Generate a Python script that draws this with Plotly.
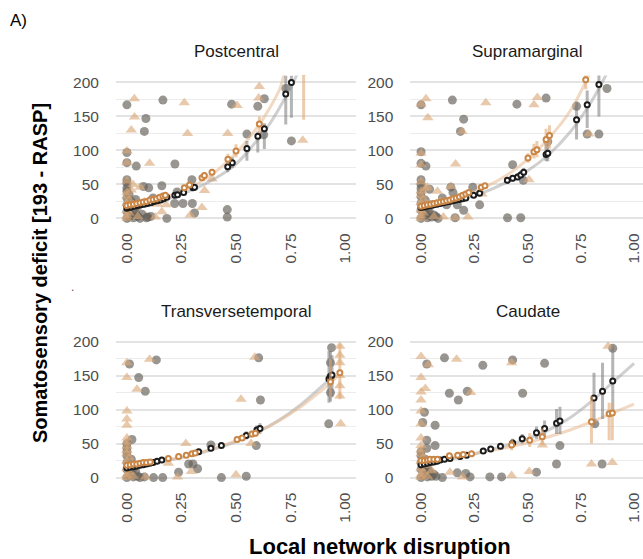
import plotly.graph_objects as go

# ---------------- data ----------------
panel_titles = ["Postcentral", "Supramarginal", "Transversetemporal", "Caudate"]
x_tick_vals = [0, 0.25, 0.5, 0.75, 1.0]
x_tick_text = ["0.00", "0.25", "0.50", "0.75", "1.00"]
y_tick_vals = [0, 50, 100, 150, 200]

# raw observations, group 1 (grey circles) and group 2 (tan triangles): (x, y)
PC_gray = [(0.0, 167), (0.087, 147), (0.08, 128), (0.165, 174), (0.22, 80), (0.043, 77), (0.0, 97),
           (0.0, 82), (0.1, 45), (0.076, 47), (0.16, 48), (0.219, 22), (0.257, 22), (0.30, 22),
           (0.31, 8), (0.183, 0), (0.096, 2), (0.298, 57), (0.23, 39), (0.48, 168), (0.55, 124),
           (0.60, 165), (0.63, 176), (0.627, 123), (0.46, 13), (0.46, 2), (0.728, 191), (0.754, 114),
           (0.0, 0), (0.01, 2), (0.02, 5), (0.03, 1), (0.04, 8), (0.05, 3), (0.06, 0), (0.0, 10),
           (0.01, 14), (0.0, 20), (0.02, 25), (0.0, 30), (0.01, 35), (0.0, 40), (0.0, 45), (0.0, 52),
           (0.0, 57), (0.03, 12), (0.07, 6), (0.09, 1), (0.11, 3), (0.05, 18), (0.12, 30), (0.04, 28)]
PC_tan = [(0.034, 176), (0.035, 149), (0.02, 130), (0.0, 99), (0.0, 82), (0.104, 81), (0.263, 170),
          (0.278, 125), (0.505, 166), (0.462, 125), (0.607, 194), (0.604, 177), (0.806, 115),
          (0.356, 41), (0.344, 16), (0.39, 58), (0.29, 5), (0.13, 2), (0.16, 10), (0.06, 46), (0.028, 50),
          (0.0, 0), (0.0, 4), (0.01, 8), (0.0, 12), (0.02, 16), (0.0, 22), (0.01, 27), (0.0, 33),
          (0.0, 38), (0.02, 42), (0.0, 55), (0.03, 20), (0.05, 3), (0.08, 24), (0.14, 21), (0.18, 20)]
SM_gray = [(0.0, 167), (0.147, 174), (0.20, 146), (0.185, 128), (0.023, 77), (0.0, 98), (0.0, 81),
           (0.04, 43), (0.14, 46), (0.12, 20), (0.17, 20), (0.20, 12), (0.16, 1), (0.243, 46),
           (0.275, 20), (0.45, 168), (0.43, 79), (0.406, 1), (0.468, 1), (0.48, 56), (0.587, 177),
           (0.595, 113), (0.73, 165), (0.78, 124), (0.835, 124), (0.873, 191),
           (0.0, 0), (0.01, 3), (0.02, 6), (0.03, 1), (0.04, 9), (0.05, 2), (0.06, 5), (0.0, 12),
           (0.01, 16), (0.0, 22), (0.02, 27), (0.0, 32), (0.0, 38), (0.0, 44), (0.0, 50), (0.0, 57),
           (0.03, 14), (0.07, 3), (0.08, 0), (0.05, 20), (0.10, 30), (0.15, 38)]
SM_tan = [(0.0, 168), (0.023, 176), (0.032, 148), (0.0, 79), (0.162, 80), (0.193, 128), (0.304, 170),
          (0.546, 178), (0.53, 167), (0.507, 57), (0.788, 124), (0.03, 46), (0.077, 40), (0.105, 2),
          (0.22, 2), (0.14, 47), (0.286, 36), (0.0, 96),
          (0.0, 0), (0.0, 4), (0.01, 8), (0.0, 12), (0.02, 17), (0.0, 23), (0.01, 28), (0.0, 34),
          (0.0, 40), (0.02, 44), (0.0, 54), (0.03, 21), (0.06, 3), (0.09, 25), (0.16, 1)]
TT_gray = [(0.012, 167), (0.054, 147), (0.084, 127), (0.135, 173), (0.023, 56), (0.06, 0), (0.122, 0),
           (0.164, 0), (0.237, 8), (0.283, 20), (0.303, 20), (0.324, 13), (0.385, 48), (0.433, 0),
           (0.547, 2), (0.593, 47), (0.604, 176), (0.612, 114),
           (0.938, 191), (0.933, 169), (0.933, 147), (0.933, 125), (0.925, 79),
           (0.0, 0), (0.01, 3), (0.02, 6), (0.03, 1), (0.04, 9), (0.05, 2), (0.0, 12), (0.01, 16),
           (0.0, 22), (0.02, 27), (0.0, 32), (0.0, 38), (0.0, 44), (0.0, 50), (0.03, 14), (0.08, 1)]
TT_tan = [(0.0, 169), (0.0, 147), (0.046, 130), (0.104, 174), (0.0, 98), (0.0, 86), (0.0, 77), (0.0, 58),
          (0.084, 1), (0.232, 1), (0.19, 21), (0.27, 50), (0.295, 9), (0.5, 4), (0.523, 115),
          (0.586, 177), (0.569, 50),
          (0.976, 193), (0.976, 180), (0.976, 169), (0.976, 150), (0.976, 135), (0.976, 120), (0.98, 79),
          (0.0, 0), (0.0, 4), (0.01, 8), (0.0, 13), (0.02, 18), (0.0, 24), (0.01, 29), (0.0, 35),
          (0.0, 40), (0.0, 46), (0.0, 52), (0.03, 2)]
CA_gray = [(0.027, 167), (0.11, 176), (0.29, 165), (0.43, 173), (0.58, 168), (0.016, 96), (0.066, 77),
           (0.008, 81), (0.133, 124), (0.175, 114), (0.217, 127), (0.477, 124), (0.027, 55), (0.066, 47),
           (0.027, 43), (0.10, 0), (0.17, 7), (0.21, 6), (0.23, 1), (0.323, 1), (0.378, 1), (0.542, 8),
           (0.636, 20), (0.652, 47), (0.816, 79), (0.85, 20), (0.90, 190),
           (0.0, 0), (0.01, 3), (0.02, 6), (0.03, 1), (0.04, 9), (0.05, 2), (0.06, 5), (0.0, 12),
           (0.01, 16), (0.0, 22), (0.02, 27), (0.0, 32), (0.0, 38), (0.03, 14), (0.07, 2)]
CA_tan = [(0.0, 178), (0.034, 166), (0.0, 147), (0.0, 126), (0.02, 131), (0.0, 114), (0.0, 98), (0.0, 79),
          (0.0, 58), (0.167, 174), (0.233, 125), (0.425, 169), (0.136, 8), (0.195, 1), (0.425, 3),
          (0.508, 9), (0.57, 48), (0.80, 20), (0.898, 22), (0.878, 193),
          (0.0, 0), (0.0, 4), (0.01, 8), (0.0, 13), (0.02, 18), (0.0, 24), (0.01, 29), (0.0, 35),
          (0.0, 41), (0.0, 47), (0.03, 2), (0.05, 10)]

# fitted curves: (x, y)
PC_fit_gray = [(0, 15), (0.1, 21), (0.2, 30), (0.3, 42), (0.4, 58), (0.5, 80), (0.6, 116), (0.65, 137),
               (0.7, 163), (0.75, 192), (0.78, 212)]
PC_fit_tan = [(0, 19), (0.1, 25), (0.2, 34), (0.3, 47), (0.4, 67), (0.5, 96), (0.6, 135), (0.65, 160),
              (0.7, 190), (0.72, 212)]
SM_fit_gray = [(0, 15), (0.1, 21), (0.2, 29), (0.3, 39), (0.4, 53), (0.5, 70), (0.6, 94), (0.7, 127),
               (0.8, 172), (0.87, 212)]
SM_fit_tan = [(0, 18), (0.1, 25), (0.2, 34), (0.3, 46), (0.4, 63), (0.5, 87), (0.6, 118), (0.7, 158),
              (0.79, 212)]
TT_fit_gray = [(0, 16), (0.1, 21), (0.2, 26), (0.3, 33), (0.4, 42), (0.5, 53), (0.6, 67), (0.7, 85),
               (0.8, 108), (0.9, 136), (0.94, 148)]
TT_fit_tan = [(0, 18), (0.1, 22), (0.2, 27), (0.3, 34), (0.4, 43), (0.5, 54), (0.6, 67), (0.7, 84),
              (0.8, 105), (0.9, 130), (0.98, 153)]
CA_fit_gray = [(0, 20), (0.1, 25), (0.2, 31), (0.3, 39), (0.4, 47), (0.5, 57), (0.6, 70), (0.7, 88),
               (0.8, 112), (0.9, 140), (1.0, 168)]
CA_fit_tan = [(0, 22), (0.1, 27), (0.2, 32), (0.3, 38), (0.4, 44), (0.5, 51), (0.6, 60), (0.7, 70),
              (0.8, 82), (0.9, 95), (1.0, 108)]

# binned means with intervals: (x, y, low, high)
PC_mean_gray = [(0.0, 15, 13, 17), (0.01, 16, 14, 18), (0.02, 17, 15, 19), (0.035, 18, 16, 20),
                (0.05, 19, 17, 21), (0.065, 20, 18, 22), (0.08, 21, 19, 23), (0.095, 22, 20, 24),
                (0.11, 23, 21, 25), (0.125, 25, 23, 27), (0.14, 26, 24, 28), (0.155, 27, 25, 29),
                (0.168, 29, 27, 31), (0.183, 31, 29, 33), (0.22, 34, 32, 36), (0.232, 35, 33, 37),
                (0.26, 38, 36, 40), (0.303, 45, 42, 48), (0.31, 46, 43, 49), (0.462, 76, 68, 84),
                (0.483, 82, 74, 90), (0.55, 103, 85, 114), (0.60, 121, 97, 128), (0.63, 132, 102, 140),
                (0.728, 183, 138, 210), (0.754, 200, 148, 210)]
PC_mean_tan = [(0.0, 19, 17, 21), (0.015, 20, 18, 22), (0.03, 21, 19, 23), (0.045, 22, 20, 24),
               (0.06, 23, 21, 25), (0.075, 24, 22, 26), (0.09, 25, 23, 27), (0.105, 27, 25, 29),
               (0.12, 28, 26, 30), (0.135, 29, 27, 31), (0.15, 31, 29, 33), (0.165, 33, 31, 35),
               (0.176, 34, 32, 36), (0.263, 45, 42, 48), (0.287, 49, 46, 52), (0.344, 60, 56, 64),
               (0.355, 63, 59, 67), (0.39, 68, 63, 73), (0.463, 87, 80, 95), (0.50, 99, 90, 109),
               (0.607, 139, 126, 150), (0.81, 215, 145, 212)]
SM_mean_gray = [(0.0, 16, 14, 18), (0.015, 17, 15, 19), (0.03, 18, 16, 20), (0.045, 19, 17, 21),
                (0.06, 20, 18, 22), (0.075, 21, 19, 23), (0.09, 22, 20, 24), (0.105, 23, 21, 25),
                (0.12, 24, 22, 26), (0.135, 25, 23, 27), (0.15, 26, 24, 28), (0.165, 27, 25, 29),
                (0.18, 28, 26, 30), (0.195, 29, 27, 31), (0.21, 30, 28, 32), (0.247, 34, 31, 37),
                (0.275, 37, 34, 40), (0.405, 56, 51, 61), (0.43, 59, 54, 64), (0.453, 61, 56, 66),
                (0.468, 64, 58, 70), (0.482, 68, 62, 74), (0.587, 94, 84, 108), (0.595, 96, 84, 108),
                (0.73, 145, 116, 172), (0.78, 167, 133, 188), (0.835, 197, 150, 211)]
SM_mean_tan = [(0.0, 18, 16, 20), (0.015, 19, 17, 21), (0.03, 20, 18, 22), (0.045, 21, 19, 23),
               (0.06, 22, 20, 24), (0.075, 23, 21, 25), (0.09, 24, 22, 26), (0.105, 25, 23, 27),
               (0.12, 26, 24, 28), (0.135, 27, 25, 29), (0.15, 29, 27, 31), (0.165, 30, 28, 32),
               (0.18, 32, 30, 34), (0.195, 34, 32, 36), (0.21, 36, 34, 38), (0.224, 38, 36, 40),
               (0.283, 46, 43, 49), (0.30, 48, 45, 51), (0.502, 89, 82, 96), (0.53, 98, 88, 110),
               (0.544, 101, 90, 114), (0.587, 116, 103, 132), (0.603, 122, 103, 137),
               (0.773, 204, 190, 212)]
TT_mean_gray = [(0.0, 14, 12, 16), (0.015, 15, 13, 17), (0.03, 16, 14, 18), (0.045, 17, 15, 19),
                (0.06, 18, 16, 20), (0.075, 19, 17, 21), (0.09, 20, 18, 22), (0.105, 21, 19, 23),
                (0.12, 22, 20, 24), (0.138, 24, 22, 26), (0.16, 26, 24, 28), (0.329, 38, 35, 41),
                (0.385, 43, 39, 47), (0.433, 47, 43, 51), (0.547, 62, 56, 68), (0.596, 70, 63, 77),
                (0.61, 72, 64, 80), (0.926, 145, 110, 186), (0.933, 149, 112, 186), (0.94, 151, 118, 180)]
TT_mean_tan = [(0.0, 18, 16, 20), (0.015, 19, 17, 21), (0.03, 20, 18, 22), (0.045, 20, 18, 22),
               (0.06, 21, 19, 23), (0.075, 22, 20, 24), (0.09, 22, 20, 24), (0.107, 23, 21, 25),
               (0.19, 28, 26, 30), (0.237, 31, 29, 33), (0.272, 33, 31, 35), (0.298, 35, 33, 37),
               (0.313, 36, 34, 38), (0.505, 56, 52, 60), (0.528, 58, 54, 62), (0.573, 64, 59, 69),
               (0.589, 65, 60, 70), (0.933, 141, 118, 175), (0.976, 154, 115, 196)]
CA_mean_gray = [(0.0, 19, 17, 21), (0.015, 20, 18, 22), (0.03, 21, 19, 23), (0.045, 22, 20, 24),
                (0.06, 23, 21, 25), (0.075, 24, 22, 26), (0.09, 26, 24, 28), (0.11, 27, 25, 29),
                (0.136, 28, 26, 30), (0.183, 31, 29, 33), (0.214, 33, 31, 35), (0.292, 39, 36, 42),
                (0.327, 42, 39, 45), (0.373, 46, 42, 50), (0.43, 51, 45, 57), (0.475, 57, 50, 64),
                (0.542, 66, 57, 75), (0.58, 72, 60, 84), (0.636, 80, 64, 101), (0.652, 83, 64, 104),
                (0.812, 117, 77, 154), (0.852, 127, 86, 169), (0.90, 142, 91, 193)]
CA_mean_tan = [(0.0, 25, 22, 28), (0.015, 25, 22, 28), (0.03, 26, 23, 29), (0.042, 27, 24, 30),
               (0.06, 27, 24, 30), (0.077, 27, 24, 30), (0.133, 32, 29, 35), (0.172, 33, 30, 36),
               (0.198, 34, 31, 37), (0.237, 35, 32, 38), (0.425, 48, 40, 56), (0.51, 55, 45, 65),
               (0.569, 60, 48, 72), (0.80, 82, 50, 120), (0.883, 94, 55, 110), (0.898, 95, 55, 110)]

# ---------------- styling ----------------
FONT = "Liberation Sans, Arial, Helvetica, sans-serif"
GRAY_PT = "rgba(100,95,88,0.66)"
TAN_PT = "rgba(218,168,120,0.62)"
GRAY_FIT = "rgba(150,150,150,0.45)"
TAN_FIT = "rgba(230,185,145,0.55)"
GRAY_ERR = "rgba(120,120,120,0.55)"
TAN_ERR = "rgba(225,170,120,0.6)"
BLACK_MEAN = "#1c1c1c"
ORANGE_MEAN = "#c98646"

panels = [
    (PC_gray, PC_tan, PC_fit_gray, PC_fit_tan, PC_mean_gray, PC_mean_tan),
    (SM_gray, SM_tan, SM_fit_gray, SM_fit_tan, SM_mean_gray, SM_mean_tan),
    (TT_gray, TT_tan, TT_fit_gray, TT_fit_tan, TT_mean_gray, TT_mean_tan),
    (CA_gray, CA_tan, CA_fit_gray, CA_fit_tan, CA_mean_gray, CA_mean_tan),
]

W, H = 643, 559
fig = go.Figure()

def col(lst, i):
    return [p[i] for p in lst]

for k, (g, t, fg, ft, mg, mt) in enumerate(panels):
    xa = "x" if k == 0 else f"x{k+1}"
    ya = "y" if k == 0 else f"y{k+1}"
    fig.add_trace(go.Scatter(x=col(g, 0), y=col(g, 1), mode="markers", xaxis=xa, yaxis=ya,
                             marker=dict(symbol="circle", size=9, color=GRAY_PT, line=dict(width=0)),
                             showlegend=False, hoverinfo="skip"))
    fig.add_trace(go.Scatter(x=col(t, 0), y=col(t, 1), mode="markers", xaxis=xa, yaxis=ya,
                             marker=dict(symbol="triangle-up", size=10, color=TAN_PT, line=dict(width=0)),
                             showlegend=False, hoverinfo="skip"))
    fig.add_trace(go.Scatter(x=col(fg, 0), y=col(fg, 1), mode="lines", xaxis=xa, yaxis=ya,
                             line=dict(color=GRAY_FIT, width=3, shape="spline"),
                             showlegend=False, hoverinfo="skip"))
    fig.add_trace(go.Scatter(x=col(ft, 0), y=col(ft, 1), mode="lines", xaxis=xa, yaxis=ya,
                             line=dict(color=TAN_FIT, width=3, shape="spline"),
                             showlegend=False, hoverinfo="skip"))
    for m, mc, ec in ((mg, BLACK_MEAN, GRAY_ERR), (mt, ORANGE_MEAN, TAN_ERR)):
        fig.add_trace(go.Scatter(
            x=col(m, 0), y=col(m, 1), mode="markers", xaxis=xa, yaxis=ya,
            error_y=dict(type="data", symmetric=False,
                         array=[p[3] - p[1] for p in m], arrayminus=[p[1] - p[2] for p in m],
                         color=ec, thickness=3, width=0),
            marker=dict(symbol="circle", size=5, color="white", line=dict(color=mc, width=2)),
            showlegend=False, hoverinfo="skip"))

# pixel geometry
left_dom = [116 / W, 356 / W]
right_dom = [410.4 / W, 1.0]
top_dom = [(H - 224.85) / H, (H - 74.15) / H]
bot_dom = [(H - 485.85) / H, (H - 335.15) / H]

def xax(dom, rng, anchor):
    return dict(domain=dom, range=rng, anchor=anchor, showgrid=False, zeroline=False, showline=False,
                tickmode="array", tickvals=x_tick_vals, ticktext=x_tick_text, tickangle=-90,
                ticks="outside", ticklen=1, tickcolor="rgba(0,0,0,0)",
                tickfont=dict(family=FONT, size=15.5, color="#4d4d4d"), fixedrange=True)

def yax(dom, anchor):
    return dict(domain=dom, range=[-10, 210], anchor=anchor, zeroline=False, showline=False,
                tickmode="array", tickvals=y_tick_vals, showgrid=True, gridcolor="#e3e3e3", gridwidth=1.6,
                minor=dict(tickmode="linear", tick0=0, dtick=25, showgrid=True, gridcolor="#ececec",
                           gridwidth=1.2, ticks=""),
                ticks="outside", ticklen=13, tickcolor="rgba(0,0,0,0)",
                tickfont=dict(family=FONT, size=15.5, color="#4d4d4d"), fixedrange=True)

fig.update_layout(
    width=W, height=H, margin=dict(l=0, r=0, t=0, b=0),
    paper_bgcolor="white", plot_bgcolor="white",
    xaxis=xax(left_dom, [-0.05, 1.05], "y"),
    xaxis2=xax(right_dom, [-0.05, 1.042], "y2"),
    xaxis3=xax(left_dom, [-0.05, 1.05], "y3"),
    xaxis4=xax(right_dom, [-0.05, 1.042], "y4"),
    yaxis=yax(top_dom, "x"),
    yaxis2=yax(top_dom, "x2"),
    yaxis3=yax(bot_dom, "x3"),
    yaxis4=yax(bot_dom, "x4"),
)

ann = []
title_pos = [((116 + 356) / 2, 50), ((410.4 + 645) / 2, 50), ((116 + 356) / 2, 312), ((410.4 + 645) / 2, 312)]
for name, (px, py) in zip(panel_titles, title_pos):
    ann.append(dict(text=name, x=px / W, y=(H - py) / H, xref="paper", yref="paper",
                    xanchor="center", yanchor="middle", showarrow=False,
                    font=dict(family=FONT, size=17, color="#1a1a1a")))
ann.append(dict(text="<b>Local network disruption</b>", x=380 / W, y=(H - 548) / H, xref="paper",
                yref="paper", xanchor="center", yanchor="middle", showarrow=False,
                font=dict(family=FONT, size=22, color="#000000")))
ann.append(dict(text="<b>Somatosensory deficit [193 - RASP]</b>", x=40 / W, y=(H - 273) / H,
                xref="paper", yref="paper", xanchor="center", yanchor="middle", showarrow=False,
                textangle=-90, font=dict(family=FONT, size=20, color="#000000")))
ann.append(dict(text="A)", x=18 / W, y=(H - 19) / H, xref="paper", yref="paper", xanchor="center",
                yanchor="middle", showarrow=False, font=dict(family=FONT, size=17, color="#000000")))
ann.append(dict(text=".", x=72 / W, y=(H - 287) / H, xref="paper", yref="paper", xanchor="center",
                yanchor="middle", showarrow=False, font=dict(family=FONT, size=12, color="#555555")))
fig.update_layout(annotations=ann)

fig.write_html("out.html", config={"displayModeBar": False},
               post_script="document.body.style.margin='0px';")
